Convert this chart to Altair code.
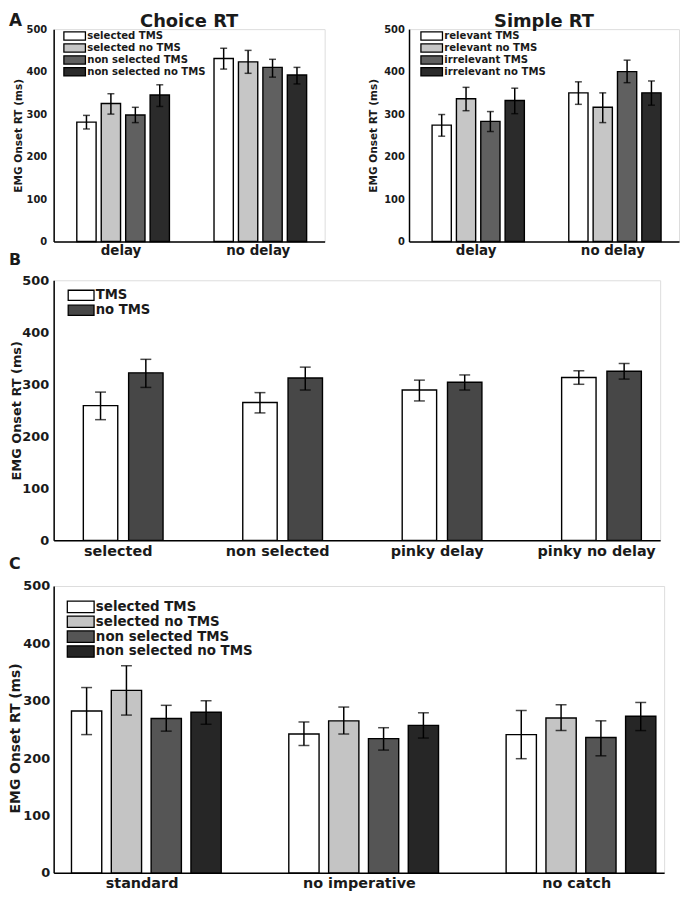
import json
import altair as alt
import pandas as pd

FONT = "DejaVu Sans"
INK = "#1a1a1a"
YTITLE = "EMG Onset RT (ms)"
TICKS = [0, 100, 200, 300, 400, 500]

# ---- Panel A (left): Choice RT ----
a1_groups = ["delay", "no delay"]
a1_conds = ["selected TMS", "selected no TMS", "non selected TMS", "non selected no TMS"]
a1_mean = [[281, 325, 298, 345], [431, 423, 410, 392]]
a1_lo = [[265, 300, 280, 318], [406, 396, 387, 371]]
a1_hi = [[297, 348, 316, 369], [455, 450, 429, 410]]
a1_colors = ["#ffffff", "#c6c6c6", "#606060", "#2b2b2b"]

# ---- Panel A (right): Simple RT ----
a2_groups = ["delay", "no delay"]
a2_conds = ["relevant TMS", "relevant no TMS", "irrelevant TMS", "irrelevant no TMS"]
a2_mean = [[274, 336, 283, 332], [350, 316, 400, 350]]
a2_lo = [[248, 308, 259, 301], [323, 280, 374, 321]]
a2_hi = [[299, 363, 306, 361], [376, 350, 427, 378]]
a2_colors = ["#ffffff", "#c6c6c6", "#606060", "#2b2b2b"]

# ---- Panel B ----
b_groups = ["selected", "non selected", "pinky delay", "pinky no delay"]
b_conds = ["TMS", "no TMS"]
b_mean = [[259, 322], [265, 312], [289, 304], [313, 325]]
b_lo = [[232, 294], [245, 289], [268, 289], [300, 310]]
b_hi = [[285, 348], [284, 333], [308, 318], [326, 340]]
b_colors = ["#ffffff", "#474747"]

# ---- Panel C ----
c_groups = ["standard", "no imperative", "no catch"]
c_conds = ["selected TMS", "selected no TMS", "non selected TMS", "non selected no TMS"]
c_mean = [[282, 318, 269, 280], [242, 265, 234, 257], [241, 270, 236, 273]]
c_lo = [[241, 275, 247, 259], [222, 242, 214, 235], [199, 248, 204, 248]]
c_hi = [[323, 361, 292, 300], [263, 289, 253, 279], [283, 293, 265, 297]]
c_colors = ["#ffffff", "#c4c4c4", "#555555", "#262626"]


def make_df(groups, conds, mean, lo, hi):
    rows = []
    for gi, g in enumerate(groups):
        for ci, c in enumerate(conds):
            rows.append({"group": g, "cond": c, "gi": gi, "ci": ci,
                         "mean": mean[gi][ci], "lo": lo[gi][ci], "hi": hi[gi][ci]})
    return pd.DataFrame(rows)


def panel(groups, conds, mean, lo, hi, colors, W, H, pin, pout, opad, cap,
          xfs, xlp, yfs, ylp, ytfs, ytp, leg, letter=None, title=None, titleY=None):
    df = make_df(groups, conds, mean, lo, hi)
    n, k = len(groups), len(conds)
    # grouped-bar layout in units of the group step
    bandw = 1 - pin
    ostep = bandw / (k - opad)
    barw = ostep * (1 - opad)
    edge = pout + bandw / 2
    xscale = alt.Scale(domain=[-edge, n - 1 + edge], nice=False, zero=False, padding=0)
    xaxis = alt.Axis(title=None, values=list(range(n)),
                     labelExpr=json.dumps(groups) + "[datum.value]",
                     labelAngle=0, ticks=False, grid=False, labelFlush=False,
                     domainColor="black", domainWidth=1.5,
                     labelFont=FONT, labelFontWeight="bold",
                     labelFontSize=xfs, labelPadding=xlp, labelColor=INK)
    yaxis_kw = dict(values=TICKS, ticks=False, grid=False, domainColor="black",
                    domainWidth=1.5, labelFont=FONT, labelFontWeight="bold",
                    labelFontSize=yfs, labelPadding=ylp, labelColor=INK,
                    titleFont=FONT, titleFontWeight="bold", titleFontSize=ytfs,
                    titlePadding=ytp, titleColor=INK)
    if titleY is not None:
        yaxis_kw["titleY"] = titleY
    yscale = alt.Scale(domain=[0, 500], nice=False, padding=0)
    base = alt.Chart(df).transform_calculate(
        pos=f"datum.gi + (datum.ci + 0.5) * {ostep} - {bandw / 2}"
    ).transform_calculate(
        x0=f"datum.pos - {barw / 2}", x1=f"datum.pos + {barw / 2}"
    )
    bars = base.mark_bar(stroke="black", strokeWidth=1.4).encode(
        x=alt.X("x0:Q", scale=xscale, axis=xaxis),
        x2="x1:Q",
        y=alt.Y("mean:Q", scale=yscale, title=YTITLE, stack=False,
                axis=alt.Axis(**yaxis_kw)),
        y2=alt.datum(0),
        color=alt.Color("cond:N", sort=conds,
                        scale=alt.Scale(domain=conds, range=colors),
                        legend=alt.Legend(title=None, orient="none",
                                          legendX=leg["x"], legendY=leg["y"],
                                          symbolType=leg["path"], symbolSize=leg["size"],
                                          symbolStrokeColor="black", symbolStrokeWidth=1.3,
                                          symbolOpacity=1, clipHeight=leg["ch"],
                                          labelFont=FONT, labelFontWeight="bold",
                                          labelFontSize=leg["fs"], labelColor=INK,
                                          labelOffset=leg["lo"], rowPadding=0,
                                          labelLimit=400, padding=0)))
    rules = base.mark_rule(color="black", strokeWidth=1.5).encode(
        x=alt.X("pos:Q", scale=xscale, axis=xaxis),
        y=alt.Y("lo:Q", scale=yscale, title=YTITLE), y2="hi:Q")
    caps = base.transform_fold(["lo", "hi"], as_=["end", "val"]).mark_tick(
        color="black", thickness=1.5, size=cap, orient="horizontal").encode(
        x=alt.X("pos:Q", scale=xscale, axis=xaxis),
        y=alt.Y("val:Q", scale=yscale, title=YTITLE))
    layers = [bars, rules, caps]
    if letter is not None:
        lt = alt.Chart(pd.DataFrame({"letter": [letter["text"]]})).mark_text(
            align="left", baseline="alphabetic", font=FONT, fontWeight="bold",
            fontSize=letter["fs"], color=INK).encode(
            text="letter:N", x=alt.value(letter["x"]), y=alt.value(letter["y"]))
        layers.append(lt)
    if title is not None:
        tt = alt.Chart(pd.DataFrame({"title": [title]})).mark_text(
            align="center", baseline="alphabetic", font=FONT, fontWeight="bold",
            fontSize=18, color=INK).encode(
            text="title:N", x=alt.value(W / 2), y=alt.value(-2))
        layers.append(tt)
    return alt.layer(*layers).properties(width=W, height=H)


HA = 214
legA1 = {"x": 9.3, "y": 1, "path": "M-1,-0.83H3.34V0.83H-1Z", "size": 100,
         "fs": 10.2, "lo": 12.5, "ch": 12}
legA2 = {"x": 11, "y": 1, "path": "M-1,-0.83H3.34V0.83H-1Z", "size": 100,
         "fs": 10.2, "lo": 12.5, "ch": 12}
legB = {"x": 13, "y": 8.5, "path": "M-1,-1.03H4.2V1.03H-1Z", "size": 100,
        "fs": 13.3, "lo": 16, "ch": 13.4}
legC = {"x": 12, "y": 13.5, "path": "M-1,-1.15H4.4V1.15H-1Z", "size": 100,
        "fs": 13.5, "lo": 17, "ch": 15}

pA1 = panel(a1_groups, a1_conds, a1_mean, a1_lo, a1_hi, a1_colors, 273, HA,
            0.325, 0.15, 0.21, 7, 13.5, 2, 10, 7, 10.6, 3, legA1,
            letter={"text": "A", "fs": 17, "x": -45, "y": -3}, title="Choice RT")
pA2 = panel(a2_groups, a2_conds, a2_mean, a2_lo, a2_hi, a2_colors, 272, HA,
            0.325, 0.15, 0.21, 7, 13.5, 2, 10, 4.7, 10.6, 5, legA2, title="Simple RT")
pB = panel(b_groups, b_conds, b_mean, b_lo, b_hi, b_colors, 611, 262,
           0.5, 0.152, 0.24, 11, 14.5, 4, 13, 5, 13, -2, legB,
           letter={"text": "B", "fs": 16, "x": -45, "y": -15.7})
pC = panel(c_groups, c_conds, c_mean, c_lo, c_hi, c_colors, 615, 289,
           0.311, 0.06, 0.24, 11, 14.5, 4, 13, 4, 14, 0, legC,
           letter={"text": "C", "fs": 16, "x": -45, "y": -16.7}, titleY=153)

rowA = alt.hconcat(pA1, pA2, spacing=85, bounds="flush").resolve_scale(color="independent")
rowBC = alt.vconcat(pB, pC, spacing=46, bounds="flush").resolve_scale(color="independent")

# nested concats have no flush height of their own, so the outer spacing
# is measured from the top of row A to the top of panel B
chart = alt.vconcat(rowA, rowBC, spacing=253, bounds="flush").resolve_scale(
    color="independent").properties(padding=0).configure_view(
    strokeWidth=0).configure(font=FONT)

chart.save("out.html", embed_options={"renderer": "svg", "actions": False})
